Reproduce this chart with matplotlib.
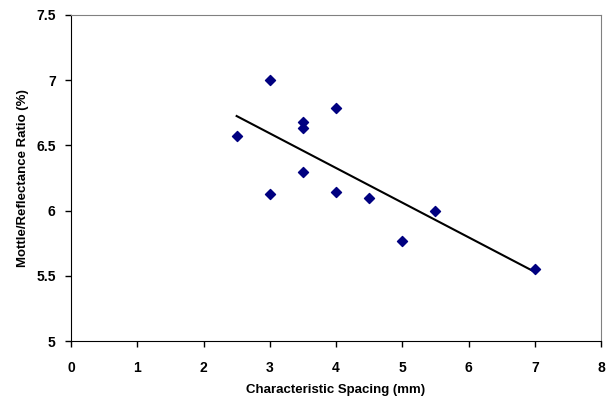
import numpy as np
import matplotlib.pyplot as plt

plt.rcParams['font.family'] = ['Liberation Sans', 'DejaVu Sans']

spacing = [2.5, 3, 3, 3.5, 3.5, 3.5, 4, 4, 4.5, 5, 5.5, 7]
ratio = [6.57, 7.0, 6.13, 6.68, 6.63, 6.30, 6.79, 6.14, 6.10, 5.77, 6.00, 5.55]

fig = plt.figure(figsize=(6.08, 4.03), dpi=100)
ax = fig.add_axes([0.1168, 0.1536, 0.8717, 0.8092])

# linear trend line over the data range
m, b = np.polyfit(spacing, ratio, 1)
xs = np.array([min(spacing), max(spacing)])
ax.plot(xs, m * xs + b, color='black', lw=1.5, zorder=2)

ax.scatter(spacing, ratio, marker='D', s=26, color='#000080', zorder=3)

ax.set_xlim(0, 8)
ax.set_ylim(5, 7.5)
ax.set_xticks(range(0, 9))
ax.set_yticks([5, 5.5, 6, 6.5, 7, 7.5])
ax.set_yticklabels(['5', '5.5', '6', '6.5', '7', '7.5'])

for s in ['top', 'right']:
    ax.spines[s].set_color('#808080')
for s in ['left', 'bottom']:
    ax.spines[s].set_color('black')
ax.tick_params(direction='out', length=4, width=1, labelsize=10)
ax.tick_params(axis='x', pad=10)
ax.tick_params(axis='y', pad=7)
for lab in ax.get_xticklabels() + ax.get_yticklabels():
    lab.set_fontweight('bold')

ax.set_xlabel('Characteristic Spacing (mm)', fontsize=9.5, fontweight='bold', labelpad=7)
ax.set_ylabel('Mottle/Reflectance Ratio (%)', fontsize=9.5, fontweight='bold', labelpad=5)

fig.savefig('out.png', dpi=100)
